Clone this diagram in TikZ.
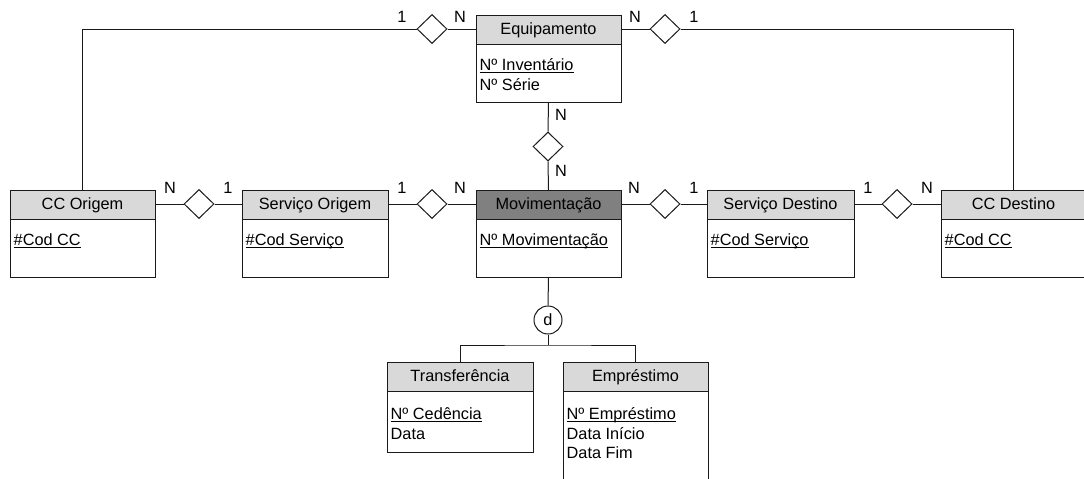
\documentclass[tikz,border=0pt]{standalone}
\usepackage{fontspec}
\setmainfont{Liberation Sans}
\usetikzlibrary{shapes.geometric,calc}
\definecolor{hdr}{HTML}{D9D9D9}
\definecolor{hdrdark}{HTML}{808080}
\definecolor{ln}{HTML}{1A1A1A}

% key attribute: text with an underline at a fixed distance below the baseline
\newsavebox\keybox
\newcommand\keyattr[1]{%
  \sbox\keybox{#1}%
  \rlap{\rule[-3.2pt]{\wd\keybox}{0.9pt}}\usebox\keybox}

\tikzset{
  every node/.style={font=\fontsize{16.3}{19}\selectfont, text=black},
  conn/.style={draw=ln, line width=1pt},
  frame/.style={draw=ln, line width=1pt},
  rel/.style={shape=diamond, draw=ln, line width=1pt, fill=white,
              minimum width=30pt, minimum height=29pt, inner sep=0pt},
  card/.style={inner sep=0pt, anchor=base},
  hdrtext/.style={inner sep=0pt, anchor=base},
  attr/.style={inner sep=0pt, anchor=base west},
  disj/.style={circle, draw=ln, line width=1pt, fill=white,
               minimum size=28pt, inner sep=0pt},
  erframe/.style={rectangle, inner sep=0pt, outer sep=0pt, anchor=north west}
}

% entity box: name, x, y, width, height, header colour, title
\newcommand\erbox[7]{%
  \node[erframe, minimum width=#4pt, minimum height=#5pt] (#1) at (#2,#3) {};
  \fill[#6] (#1.north west) rectangle ($(#1.north east)+(0,29)$);
  \draw[frame] ($(#1.north west)+(0,29)$) -- ($(#1.north east)+(0,29)$);
  \draw[frame] (#1.north west) rectangle (#1.south east);
  \node[hdrtext] (#1-title) at ($(#1.north)+(0,19.5)$) {#7};
}
% attribute line: entity name, index, baseline offset, text
\newcommand\erattr[4]{%
  \node[attr] (#1-a#2) at ($(#1.north west)+(3.5,#3)$) {#4};
}

\begin{document}
\begin{tikzpicture}[x=1pt,y=-1pt]
\useasboundingbox (0,0) rectangle (1084,479);

% entities
\erbox{equip}{476}{15}{145}{87}{hdr}{Equipamento}
\erattr{equip}{1}{55}{\keyattr{Nº Inventário}}
\erattr{equip}{2}{75}{Nº Série}

\erbox{ccorig}{10}{190}{145}{87}{hdr}{CC Origem}
\erattr{ccorig}{1}{55}{\keyattr{\#Cod CC}}

\erbox{servorig}{242}{190}{146}{87}{hdr}{Serviço Origem}
\erattr{servorig}{1}{55}{\keyattr{\#Cod Serviço}}

\erbox{movim}{476}{190}{145}{87}{hdrdark}{Movimentação}
\erattr{movim}{1}{55}{\keyattr{Nº Movimentação}}

\erbox{servdest}{707}{190}{147}{87}{hdr}{Serviço Destino}
\erattr{servdest}{1}{55}{\keyattr{\#Cod Serviço}}

\erbox{ccdest}{941}{190}{145}{87}{hdr}{CC Destino}
\erattr{ccdest}{1}{55}{\keyattr{\#Cod CC}}

\erbox{transf}{387}{362}{146}{90}{hdr}{Transferência}
\erattr{transf}{1}{57}{\keyattr{Nº Cedência}}
\erattr{transf}{2}{77}{Data}

\erbox{empr}{563}{362}{145}{130}{hdr}{Empréstimo}
\erattr{empr}{1}{57}{\keyattr{Nº Empréstimo}}
\erattr{empr}{2}{77}{Data Início}
\erattr{empr}{3}{96.5}{Data Fim}

% relationships
\node[rel] (r1) at (432,29) {};
\node[rel] (r2) at (665,29) {};
\node[rel] (r3) at (548,146.5) {};
\node[rel] (r4) at (199,204) {};
\node[rel] (r5) at (432,204) {};
\node[rel] (r6) at (665,204) {};
\node[rel] (r7) at (897,204) {};

% connectors
\draw[conn] (r1.east) -- (r1.east -| equip.west);
\draw[conn] (r1.west) -| (ccorig.north);
\draw[conn] (r2.west) -- (r2.west -| equip.east);
\draw[conn] (r2.east) -| (ccdest.north);
\draw[conn] (equip.south) -- (r3.north);
\draw[conn] (r3.south) -- (movim.north);
\draw[conn] (r4.west) -- (r4.west -| ccorig.east);
\draw[conn] (r4.east) -- (r4.east -| servorig.west);
\draw[conn] (r5.west) -- (r5.west -| servorig.east);
\draw[conn] (r5.east) -- (r5.east -| movim.west);
\draw[conn] (r6.west) -- (r6.west -| movim.east);
\draw[conn] (r6.east) -- (r6.east -| servdest.west);
\draw[conn] (r7.west) -- (r7.west -| servdest.east);
\draw[conn] (r7.east) -- (r7.east -| ccdest.west);

% specialisation
\node[disj] (spec) at (548,320) {d};
\coordinate (split) at (548,345);
\draw[conn] (movim.south) -- (spec.north);
\draw[conn] (spec.south) -- (split);
\draw[conn] (transf.north) |- (split) -| (empr.north);

% cardinalities
\node[card] (k1) at (402,22) {1};
\node[card] (k2) at (460,22) {N};
\node[card] (k3) at (635,22) {N};
\node[card] (k4) at (694,22) {1};
\node[card] (k5) at (561,120) {N};
\node[card] (k6) at (561,176.5) {N};
\node[card] (k7) at (170,193.5) {N};
\node[card] (k8) at (228,193.5) {1};
\node[card] (k9) at (402,193.5) {1};
\node[card] (k10) at (460,193.5) {N};
\node[card] (k11) at (634,193.5) {N};
\node[card] (k12) at (694,193.5) {1};
\node[card] (k13) at (868,193.5) {1};
\node[card] (k14) at (927,193.5) {N};
\end{tikzpicture}
\end{document}
